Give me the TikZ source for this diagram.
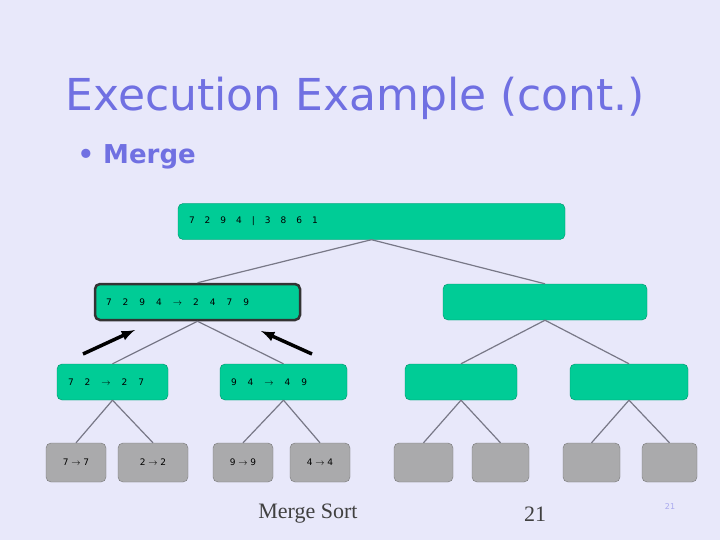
\documentclass[tikz,border=0pt]{standalone}
\usepackage{fontspec}
\setmainfont{DejaVu Sans}
\newfontfamily\footfont{Liberation Serif}
\begin{document}
\begin{tikzpicture}[x=1pt, y=-1pt]
    % Define colors
    \definecolor{slidebg}{RGB}{232,232,250}   % lavender slide
    \definecolor{titleblue}{RGB}{112,112,226} % title text
    \definecolor{mergegreen}{RGB}{0,204,150}  % merge boxes
    \definecolor{leafgray}{RGB}{170,170,172}  % leaf boxes
    \definecolor{edgegray}{RGB}{120,120,135}  % tree edges

    \tikzset{
        seqbox/.style={draw=mergegreen!70!black, fill=mergegreen, rounded corners=5pt,
            minimum height=36pt, inner xsep=11pt, text width=#1, align=left,
            font=\fontsize{9}{10}\selectfont},
        leafbox/.style={draw=leafgray!70!black, fill=leafgray, rounded corners=5pt,
            minimum height=39pt, minimum width=#1, font=\fontsize{9}{10}\selectfont},
        treeedge/.style={draw=edgegray, line width=1.2pt},
        pointer/.style={-latex, line width=3.5pt, black}
    }

    % Slide background
    \fill[slidebg] (0,0) rectangle (720,540);
    \useasboundingbox (0,0) rectangle (720,540);

    % Title and bullet
    \node[anchor=west, text=titleblue, font=\fontsize{44}{46}\selectfont] (title) at (62,98) {Execution Example (cont.)};
    \node[anchor=west, text=titleblue, font=\bfseries\fontsize{26}{28}\selectfont] (bullet) at (74,157) {\textbullet\ Merge};

    % Merge tree
    \node[seqbox=365pt] (root) at (371.5,221.5) {\spaceskip=10pt 7 2 9 4 | 3 8 6 1};
    \node[seqbox=183pt, draw=black!80, line width=2.5pt] (left) at (197.5,302) {\spaceskip=11pt 7 2 9 4 $\rightarrow$ 2 4 7 9};
    \node[seqbox=182pt] (right) at (545,302) {};

    \node[seqbox=89pt] (ll) at (112.5,382) {\spaceskip=11pt 7 2 $\rightarrow$ 2 7};
    \node[seqbox=105pt] (lr) at (283.5,382) {\spaceskip=11pt 9 4 $\rightarrow$ 4 9};
    \node[seqbox=90pt] (rl) at (461,382) {};
    \node[seqbox=96pt] (rr) at (629,382) {};

    \node[leafbox=60pt] (l1) at (76,462.5) {7 $\rightarrow$ 7};
    \node[leafbox=70pt] (l2) at (153,462.5) {2 $\rightarrow$ 2};
    \node[leafbox=60pt] (l3) at (243,462.5) {9 $\rightarrow$ 9};
    \node[leafbox=60pt] (l4) at (320,462.5) {4 $\rightarrow$ 4};
    \node[leafbox=59pt] (l5) at (423.5,462.5) {};
    \node[leafbox=57pt] (l6) at (500.5,462.5) {};
    \node[leafbox=57pt] (l7) at (591.5,462.5) {};
    \node[leafbox=55pt] (l8) at (669.5,462.5) {};

    % Tree edges
    \draw[treeedge] (root.south) -- (left.north);
    \draw[treeedge] (root.south) -- (right.north);
    \draw[treeedge] (left.south) -- (ll.north);
    \draw[treeedge] (left.south) -- (lr.north);
    \draw[treeedge] (right.south) -- (rl.north);
    \draw[treeedge] (right.south) -- (rr.north);
    \draw[treeedge] (ll.south) -- (l1.north);
    \draw[treeedge] (ll.south) -- (l2.north);
    \draw[treeedge] (lr.south) -- (l3.north);
    \draw[treeedge] (lr.south) -- (l4.north);
    \draw[treeedge] (rl.south) -- (l5.north);
    \draw[treeedge] (rl.south) -- (l6.north);
    \draw[treeedge] (rr.south) -- (l7.north);
    \draw[treeedge] (rr.south) -- (l8.north);

    % Pointers into the merged node
    \coordinate (p1) at (83,354);
    \coordinate (q1) at (135,330);
    \coordinate (p2) at (312,354);
    \coordinate (q2) at (261,331);
    \draw[pointer] (p1) -- (q1);
    \draw[pointer] (p2) -- (q2);

    % Footer
    \node[text=black!75, font=\footfont\fontsize{22}{24}\selectfont] (foot) at (308,514) {Merge Sort};
    \node[text=black!75, font=\footfont\fontsize{22}{24}\selectfont] (page) at (535,514) {21};
    \node[text=titleblue!60, font=\fontsize{8}{9}\selectfont] (slideno) at (670,507) {21};
\end{tikzpicture}
\end{document}
